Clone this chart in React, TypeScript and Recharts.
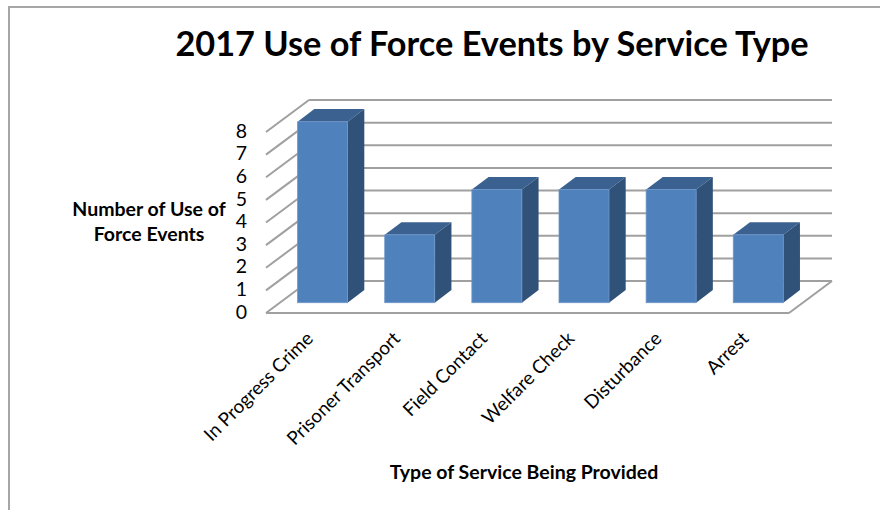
import { BarChart, Bar, XAxis, YAxis, CartesianGrid } from 'recharts';

const categories = ['In Progress Crime', 'Prisoner Transport', 'Field Contact', 'Welfare Check', 'Disturbance', 'Arrest'];
const eventCounts = [8, 3, 5, 5, 5, 3];
const valueTicks = [0, 1, 2, 3, 4, 5, 6, 7, 8];

const chartData = categories.map((name, i) => ({ name, events: eventCounts[i] }));

const FONT = 'Lato, "Open Sans", sans-serif';
const GRID = '#a0a0a0';

// depth of each bar, and the offset from a bar's front face to the back wall
const BAR_DX = 16.7;
const BAR_DY = 12.7;
const WALL_LEFT = 309;
const WALL_RIGHT = 832;
const FLOOR_LEFT = 266;
const FLOOR_RIGHT = 789;

function Bar3D({ x, y, width, height }: any) {
  const r = x + width;
  const b = y + height;
  return (
    <g>
      <polygon
        points={`${x},${y} ${x + BAR_DX},${y - BAR_DY} ${r + BAR_DX},${y - BAR_DY} ${r},${y}`}
        fill="#3a6190"
      />
      <polygon
        points={`${r},${y} ${r + BAR_DX},${y - BAR_DY} ${r + BAR_DX},${b - BAR_DY} ${r},${b}`}
        fill="#305178"
      />
      <rect x={x} y={y} width={width} height={height} fill="#4f81bd" stroke="#6d97cb" strokeWidth={0.8} />
    </g>
  );
}

// wall line plus the slanted side-wall line; the zero row also gets the floor outline
function WallLine({ y1 }: any) {
  const backY = y1 - 21.7;
  const frontY = y1 + 10.3;
  const isFloor = y1 > 300;
  return (
    <g stroke={GRID} strokeWidth={2} fill="none">
      <line x1={FLOOR_LEFT} y1={frontY} x2={WALL_LEFT} y2={backY} />
      <line x1={WALL_LEFT} y1={backY} x2={WALL_RIGHT} y2={backY} />
      {isFloor && (
        <>
          <line x1={FLOOR_LEFT} y1={frontY} x2={FLOOR_RIGHT} y2={frontY} />
          <line x1={FLOOR_RIGHT} y1={frontY} x2={WALL_RIGHT} y2={backY} />
        </>
      )}
    </g>
  );
}

function ValueTick({ y, payload }: any) {
  return (
    <text x={247} y={y + 16} textAnchor="end" fontFamily={FONT} fontSize={19.5} fill="#000">
      {payload.value}
    </text>
  );
}

function CategoryTick({ x, y, payload }: any) {
  return (
    <text
      transform={`translate(${x - 8},${y + 29}) rotate(-45)`}
      textAnchor="end"
      fontFamily={FONT}
      fontSize={18.8}
      fill="#000"
    >
      {payload.value}
    </text>
  );
}

export default function App() {
  return (
    <div style={{ position: 'fixed', left: 0, top: 0, width: 880, height: 510, background: '#fff', overflow: 'hidden' }}>
      <div style={{ position: 'absolute', left: 8, top: 5.5, right: 0, bottom: 0, borderLeft: '2px solid #a6a6a6', borderTop: '2px solid #a6a6a6' }} />
      <div style={{ position: 'absolute', left: 0, top: 0 }}>
        <BarChart
          width={880}
          height={510}
          data={chartData}
          margin={{ top: 121.7, right: 78.6, bottom: 107.3, left: 218.6 }}
          barSize={50}
        >
          <CartesianGrid vertical={false} horizontal={(props: any) => <WallLine key={props.key} {...props} />} />
          <XAxis dataKey="name" height={100} axisLine={false} tickLine={false} interval={0} tick={<CategoryTick />} />
          <YAxis width={60} domain={[0, 8]} ticks={valueTicks} interval={0} axisLine={false} tickLine={false} tick={<ValueTick />} />
          <Bar dataKey="events" isAnimationActive={false} shape={<Bar3D />} />
          <text x={492} y={56} textAnchor="middle" fontFamily={FONT} fontWeight={700} fontSize={34.3} fill="#000">
            2017 Use of Force Events by Service Type
          </text>
          <text x={149} y={216} textAnchor="middle" fontFamily={FONT} fontWeight={700} fontSize={19.5} fill="#000">
            Number of Use of
          </text>
          <text x={149} y={241} textAnchor="middle" fontFamily={FONT} fontWeight={700} fontSize={19.5} fill="#000">
            Force Events
          </text>
          <text x={524} y={479} textAnchor="middle" fontFamily={FONT} fontWeight={700} fontSize={19.5} fill="#000">
            Type of Service Being Provided
          </text>
        </BarChart>
      </div>
    </div>
  );
}
